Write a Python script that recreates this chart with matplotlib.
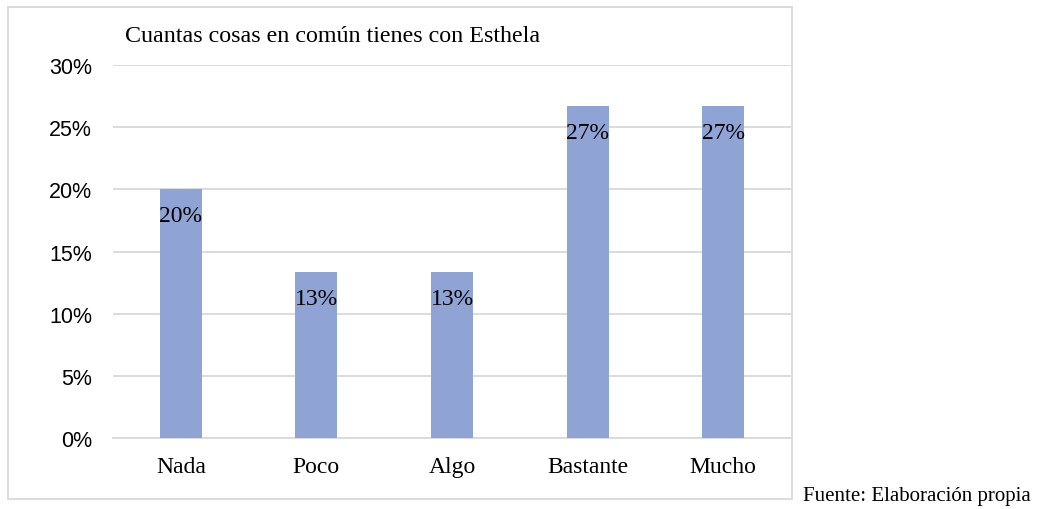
import matplotlib
matplotlib.use("Agg")
import matplotlib.pyplot as plt
from matplotlib.patches import Rectangle
from matplotlib.ticker import PercentFormatter

categorias = ["Nada", "Poco", "Algo", "Bastante", "Mucho"]
valores = [0.20, 0.1333, 0.1333, 0.2667, 0.2667]
etiquetas = ["20%", "13%", "13%", "27%", "27%"]

serif = "Liberation Serif"
sans = "Liberation Sans"

fig = plt.figure(figsize=(10.38, 5.10), dpi=100)
ax = fig.add_axes([113/1038, 1-439/510, (791-113)/1038, (439-66)/510])

x = range(len(categorias))
bars = ax.bar(x, valores, width=0.31, color="#8fa4d4", zorder=3)
for b, t in zip(bars, etiquetas):
    ax.annotate(t, (b.get_x() + b.get_width()/2, b.get_height()),
                xytext=(0, -19), textcoords="offset points",
                ha="center", va="center", fontsize=17, family=serif, zorder=4)

ax.set_xlim(-0.5, len(categorias) - 0.5)
ax.set_ylim(0, 0.30)
ax.set_yticks([0, 0.05, 0.10, 0.15, 0.20, 0.25, 0.30])
ax.yaxis.set_major_formatter(PercentFormatter(1.0, decimals=0))
ax.set_xticks(list(x))
ax.set_xticklabels(categorias, fontsize=17, family=serif)
for lab in ax.get_yticklabels():
    lab.set_fontsize(15.5)
    lab.set_family(sans)
ax.tick_params(axis="y", length=0, pad=15)
ax.tick_params(axis="x", length=0, pad=13)
ax.grid(axis="y", color="#d9d9d9", linewidth=1.3, zorder=0)
for s in ["top", "right", "left"]:
    ax.spines[s].set_visible(False)
ax.spines["bottom"].set_color("#d9d9d9")
ax.spines["bottom"].set_linewidth(1.3)

fig.text(125/1038, 1-37/510, "Cuantas cosas en común tienes con Esthela",
         fontsize=17.3, family=serif, va="center", ha="left")

fig.patches.append(Rectangle((8/1038, 1-500/510), (792-8)/1038, (500-8)/510,
                             transform=fig.transFigure, fill=False,
                             edgecolor="#d9d9d9", linewidth=1.3))

fig.text(803/1038, 1-497/510, "Fuente: Elaboración propia",
         fontsize=15, family=serif, va="center", ha="left")

fig.savefig("out.png", dpi=100)
